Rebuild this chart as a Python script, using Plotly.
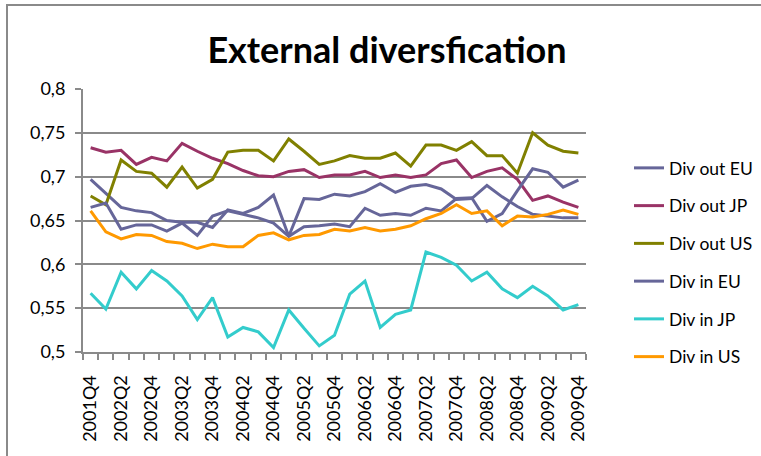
import plotly.graph_objects as go

quarters = []
for yr in range(2001, 2010):
    for q in range(1, 5):
        quarters.append(f"{yr}Q{q}")
quarters = quarters[3:]  # 2001Q4 .. 2009Q4 (33 quarters)

div_out_eu = [0.697, 0.681, 0.665, 0.661, 0.659, 0.650, 0.648, 0.648, 0.642, 0.662, 0.658,
              0.665, 0.679, 0.632, 0.675, 0.674, 0.680, 0.678, 0.683, 0.692, 0.682, 0.689,
              0.691, 0.686, 0.674, 0.675, 0.690, 0.677, 0.666, 0.657, 0.655, 0.653, 0.653]
div_out_jp = [0.733, 0.728, 0.730, 0.714, 0.722, 0.718, 0.738, 0.729, 0.721, 0.715, 0.707,
              0.701, 0.700, 0.706, 0.708, 0.699, 0.702, 0.702, 0.706, 0.699, 0.702, 0.699,
              0.702, 0.715, 0.719, 0.699, 0.706, 0.710, 0.697, 0.673, 0.678, 0.671, 0.665]
div_out_us = [0.678, 0.668, 0.719, 0.706, 0.704, 0.688, 0.711, 0.687, 0.697, 0.728, 0.730,
              0.730, 0.718, 0.743, 0.729, 0.714, 0.718, 0.724, 0.721, 0.721, 0.727, 0.712,
              0.736, 0.736, 0.730, 0.740, 0.724, 0.724, 0.704, 0.750, 0.736, 0.729, 0.727]
div_in_eu = [0.665, 0.670, 0.640, 0.645, 0.645, 0.638, 0.647, 0.633, 0.655, 0.661, 0.657,
             0.653, 0.647, 0.632, 0.643, 0.644, 0.646, 0.643, 0.664, 0.656, 0.658, 0.656,
             0.664, 0.661, 0.675, 0.676, 0.649, 0.658, 0.684, 0.709, 0.705, 0.688, 0.696]
div_in_jp = [0.567, 0.549, 0.591, 0.572, 0.593, 0.581, 0.564, 0.537, 0.562, 0.517, 0.528,
             0.523, 0.505, 0.548, 0.527, 0.507, 0.519, 0.566, 0.581, 0.528, 0.543, 0.548,
             0.614, 0.608, 0.599, 0.581, 0.591, 0.572, 0.562, 0.575, 0.564, 0.548, 0.554]
div_in_us = [0.661, 0.637, 0.629, 0.634, 0.633, 0.626, 0.624, 0.618, 0.623, 0.620, 0.620,
             0.633, 0.636, 0.628, 0.633, 0.634, 0.640, 0.638, 0.642, 0.638, 0.640, 0.644,
             0.652, 0.658, 0.668, 0.658, 0.661, 0.644, 0.655, 0.654, 0.657, 0.662, 0.657]

series_names = ["Div out EU", "Div out JP", "Div out US", "Div in EU", "Div in JP", "Div in US"]
series_values = [div_out_eu, div_out_jp, div_out_us, div_in_eu, div_in_jp, div_in_us]
series_colors = ["#666699", "#993366", "#808000", "#666699", "#33CCCC", "#FF9900"]

y_tick_vals = [0.5, 0.55, 0.6, 0.65, 0.7, 0.75, 0.8]
y_tick_text = ["0,5", "0,55", "0,6", "0,65", "0,7", "0,75", "0,8"]

x_idx = list(range(len(quarters)))
label_idx = x_idx[::2]
label_text = quarters[::2]

FONT = "Lato, 'Open Sans', sans-serif"
GRID = "#8a8a8a"

fig = go.Figure()
for name, vals, col in zip(series_names, series_values, series_colors):
    fig.add_trace(go.Scatter(x=x_idx, y=vals, mode="lines", name=name,
                             legendgroup=name,
                             line=dict(color=col, width=3)))

L, R, T, B = 83, 175, 89, 104
W, H = 761, 456
pw = W - L - R
ph = H - T - B

def px_to_paper_x(px):
    return (px - L) / pw

def px_to_paper_y(py):
    return (H - B - py) / ph

fig.update_layout(
    width=W, height=H,
    margin=dict(l=L, r=R, t=T, b=B, autoexpand=False),
    paper_bgcolor="white", plot_bgcolor="white",
    separators=", ",
    font=dict(family=FONT, color="black", size=18),
    title=dict(text="<b>External diversfication</b>", x=387 / W, xref="container",
               xanchor="center", y=1 - 50 / H, yref="container", yanchor="middle",
               font=dict(family=FONT, size=36, color="black")),
    showlegend=True,
    legend=dict(x=629 / W, y=1 - 150 / H, xref="container", yref="container",
                xanchor="left", yanchor="top",
                font=dict(family=FONT, size=17.5, color="black"),
                tracegroupgap=12, bgcolor="rgba(0,0,0,0)"),
    xaxis=dict(range=[-0.5, len(quarters) - 0.5], tickmode="array",
               tickvals=label_idx, ticktext=label_text, tickangle=-90,
               ticks="", showgrid=False, zeroline=False, ticklabelstandoff=14,
               showline=True, linecolor=GRID, linewidth=2, automargin=False,
               tickfont=dict(family=FONT, size=18, color="black"),
               minor=dict(tickmode="array",
                          tickvals=[i - 0.5 for i in range(len(quarters) + 1)],
                          ticks="outside", ticklen=6, tickcolor=GRID, tickwidth=1.5,
                          showgrid=False)),
    yaxis=dict(range=[0.5, 0.8], tickmode="array", tickvals=y_tick_vals, ticktext=y_tick_text,
               ticks="outside", ticklen=6, tickcolor=GRID, tickwidth=1.5, ticklabelstandoff=6,
               showgrid=True, gridcolor=GRID, gridwidth=1.5, zeroline=False,
               showline=True, linecolor=GRID, linewidth=2, automargin=False,
               tickfont=dict(family=FONT, size=18, color="black")),
)

# outer chart border
fig.add_shape(type="rect", xref="paper", yref="paper",
              x0=px_to_paper_x(7), x1=px_to_paper_x(790),
              y0=px_to_paper_y(490), y1=px_to_paper_y(5),
              line=dict(color=GRID, width=2), fillcolor="rgba(0,0,0,0)", layer="below")

fig.write_html("out.html", config={"displayModeBar": False},
               post_script="document.body.style.margin='0';document.body.style.overflow='hidden';")
